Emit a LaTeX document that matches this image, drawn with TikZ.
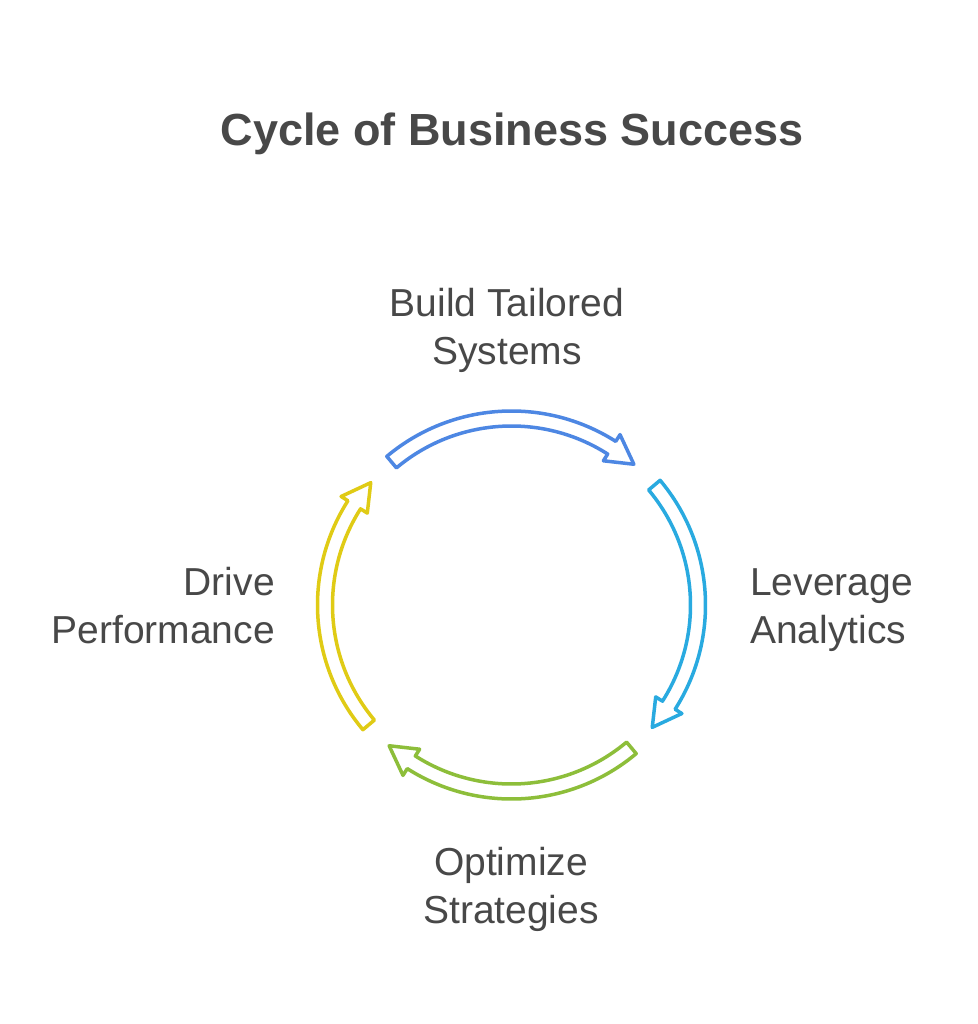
\documentclass[tikz,border=0pt]{standalone}
\usepackage{fontspec}
\setmainfont{Liberation Sans}
\definecolor{txt}{HTML}{484848}
\definecolor{cblue}{HTML}{4D87E3}
\definecolor{ccyan}{HTML}{29AAE0}
\definecolor{cgreen}{HTML}{8DBE3A}
\definecolor{cyellow}{HTML}{E0CB15}
\begin{document}
\begin{tikzpicture}[x=1pt,y=1pt,
  lbl/.style={text=txt, font=\fontsize{39}{46}\selectfont, inner sep=0pt},
  ttl/.style={text=txt, font=\bfseries\fontsize{45}{54}\selectfont, inner sep=0pt},
  cyc/.style={line width=3.5pt, line join=round, fill=white}]
\useasboundingbox (0,0) rectangle (977,-1024);
\fill[white] (0,0) rectangle (977,-1024);
\coordinate (C) at (511.5,-605);
% title
\node[ttl, anchor=base] (title) at (512,-146) {Cycle of Business Success};
% arrows
\foreach \a/\col in {130/cblue, 40/ccyan, -50/cgreen, -140/cyellow}{
  \pgfmathsetmacro{\tip}{\a-81}
  \pgfmathsetmacro{\hb}{\a-72.5}
  \draw[cyc, draw=\col]
    ([shift={(C)}]\a:194) arc[start angle=\a, end angle=\hb, radius=194]
    -- ([shift={(C)}]\hb:202)
    -- ([shift={(C)}]\tip:186.5)
    -- ([shift={(C)}]\hb:171)
    -- ([shift={(C)}]\hb:179)
    arc[start angle=\hb, end angle=\a, radius=179]
    -- cycle;
}
% labels
\node[lbl, anchor=base] (build1) at (507,-316) {Build Tailored};
\node[lbl, anchor=base] (build2) at (507,-364) {Systems};
\node[lbl, anchor=base west] (lev1) at (750,-595) {Leverage};
\node[lbl, anchor=base west] (lev2) at (750,-643) {Analytics};
\node[lbl, anchor=base] (opt1) at (511,-875) {Optimize};
\node[lbl, anchor=base] (opt2) at (511,-923) {Strategies};
\node[lbl, anchor=base east] (drv1) at (275,-595) {Drive};
\node[lbl, anchor=base east] (drv2) at (275,-643) {Performance};
\end{tikzpicture}
\end{document}
